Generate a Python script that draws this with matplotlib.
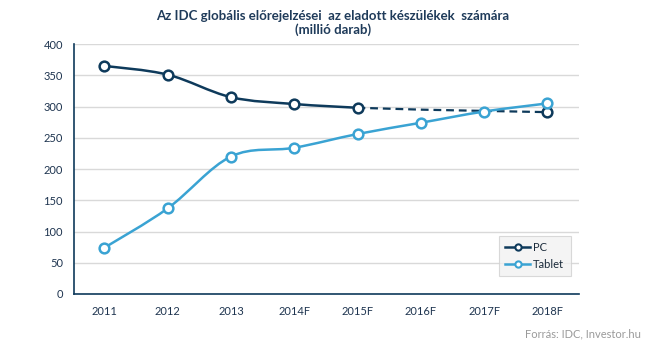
import numpy as np
import matplotlib.pyplot as plt
from matplotlib.path import Path
from matplotlib.patches import PathPatch

plt.rcParams['font.family'] = ['Lato', 'DejaVu Sans']

years = ['2011', '2012', '2013', '2014F', '2015F', '2016F', '2017F', '2018F']
pc = [365, 351, 315, 304, 298, 295, 293, 291]
tablet = [74, 137, 220, 234, 256, 274, 292, 305]
pc_last_actual = 4  # PC dashed from 2015F on

navy = '#0e3a5b'
light = '#3aa3d3'


# Excel-like smoothed line through the points (Catmull-Rom -> Bezier)
def smooth_path(x, y, t=1 / 6):
    x = np.asarray(x, float)
    y = np.asarray(y, float)
    verts = [(x[0], y[0])]
    codes = [Path.MOVETO]
    n = len(x)
    for i in range(n - 1):
        p0 = np.array([x[max(i - 1, 0)], y[max(i - 1, 0)]])
        p1 = np.array([x[i], y[i]])
        p2 = np.array([x[i + 1], y[i + 1]])
        p3 = np.array([x[min(i + 2, n - 1)], y[min(i + 2, n - 1)]])
        c1 = p1 + (p2 - p0) * t
        c2 = p2 - (p3 - p1) * t
        verts += [tuple(c1), tuple(c2), tuple(p2)]
        codes += [Path.CURVE4] * 3
    return Path(verts, codes)


fig = plt.figure(figsize=(6.45, 3.58), dpi=100)
ax = fig.add_axes([0.1147, 0.1788, 0.783, 0.6982])

xs = np.arange(len(years))

# PC actual (solid, smoothed) + forecast (dashed)
ax.add_patch(PathPatch(smooth_path(xs[:pc_last_actual + 1], pc[:pc_last_actual + 1]),
                       fill=False, edgecolor=navy, lw=1.8, zorder=3))
ax.plot(xs[pc_last_actual:], pc[pc_last_actual:], color=navy, lw=1.6,
        ls=(0, (3.5, 2.2)), zorder=3)
ax.plot(xs[:pc_last_actual + 1], pc[:pc_last_actual + 1], 'o', ls='none',
        mfc='white', mec=navy, mew=1.8, ms=7, zorder=4)
ax.plot(xs[-1:], pc[-1:], 'o', ls='none', mfc='white', mec=navy, mew=1.8, ms=7, zorder=4)

# Tablet
ax.add_patch(PathPatch(smooth_path(xs, tablet), fill=False, edgecolor=light, lw=1.8, zorder=3))
ax.plot(xs, tablet, 'o', ls='none', mfc='white', mec=light, mew=1.8, ms=7, zorder=5)

# legend handles
ax.plot([], [], '-o', color=navy, mfc='white', mec=navy, mew=1.5, ms=4.5, lw=1.8, label='PC')
ax.plot([], [], '-o', color=light, mfc='white', mec=light, mew=1.5, ms=4.5, lw=1.8, label='Tablet')
leg = ax.legend(loc='lower right', bbox_to_anchor=(0.995, 0.048), fontsize=8,
                frameon=True, fancybox=False, handlelength=2.2, borderpad=0.6,
                labelspacing=0.5, handletextpad=0.3)
leg.get_frame().set_facecolor('#f2f2f2')
leg.get_frame().set_edgecolor('#d0d0d0')
leg.get_frame().set_linewidth(0.8)
for t in leg.get_texts():
    t.set_color('#1a2a3a')

ax.set_xlim(-0.48, 7.5)
ax.set_ylim(0, 400)
ax.set_yticks(range(0, 401, 50))
ax.set_xticks(xs)
ax.set_xticklabels(years)
ax.tick_params(length=0, labelsize=8, colors='#1f3550', pad=9)
ax.tick_params(axis='y', pad=8)
ax.grid(axis='y', color='#d9d9d9', lw=1)
ax.set_axisbelow(True)
for s in ['top', 'right']:
    ax.spines[s].set_visible(False)
for s in ['left', 'bottom']:
    ax.spines[s].set_color(navy)
    ax.spines[s].set_linewidth(1.2)

fig.text(0.516, 0.972, 'Az IDC globális előrejelzései  az eladott készülékek  számára\n(millió darab)',
         ha='center', va='top', fontsize=9.5, fontweight='bold', color='#1f3b5a',
         linespacing=1.15)
fig.text(0.994, 0.068, 'Forrás: IDC, Investor.hu', ha='right', va='center',
         fontsize=8, color='#9a9a9a')

fig.savefig('out.png', dpi=100)
